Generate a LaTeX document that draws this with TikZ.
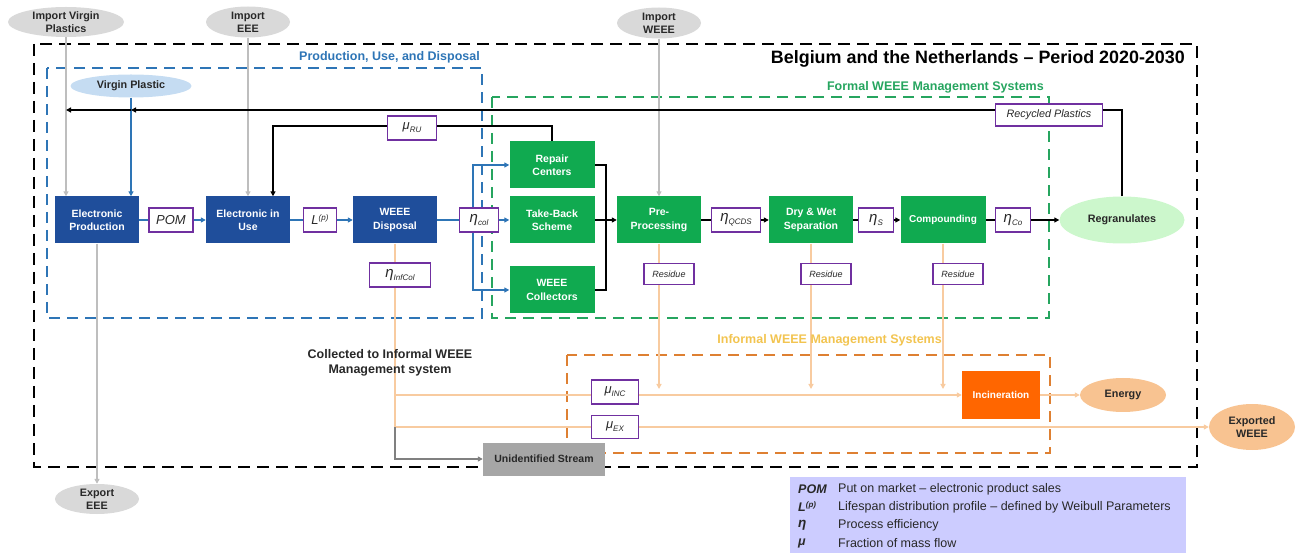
\documentclass[tikz,border=0pt]{standalone}
\usepackage{fontspec}
\setmainfont{Liberation Sans}
\usetikzlibrary{shapes.geometric,arrows.meta}
\definecolor{dkblue}{RGB}{31,78,155}
\definecolor{grbox}{RGB}{16,170,80}
\definecolor{blline}{RGB}{46,117,182}
\definecolor{purp}{RGB}{112,48,160}
\definecolor{lgray}{RGB}{217,217,217}
\definecolor{gline}{RGB}{190,190,190}
\definecolor{oline}{RGB}{248,203,160}
\definecolor{odash}{RGB}{222,128,50}
\definecolor{gold}{RGB}{242,196,80}
\definecolor{incor}{RGB}{255,102,0}
\definecolor{peachc}{RGB}{248,195,145}
\definecolor{regc}{RGB}{204,247,204}
\definecolor{vpc}{RGB}{197,220,242}
\definecolor{gdash}{RGB}{38,165,95}
\definecolor{lav}{RGB}{204,204,255}
\definecolor{unidc}{RGB}{166,166,166}
\definecolor{dgline}{RGB}{128,128,128}
\definecolor{txt}{RGB}{40,40,40}
\pgfdeclarelayer{bg}
\pgfsetlayers{bg,main}
\newcommand{\etas}[1]{{\fontsize{15}{15}\selectfont\itshape η}\raisebox{-3pt}{\fontsize{8}{8}\selectfont\itshape #1}}
\newcommand{\mus}[1]{{\fontsize{13}{13}\selectfont\itshape μ}\raisebox{-3pt}{\fontsize{8}{8}\selectfont\itshape #1}}
\begin{document}
\begin{tikzpicture}[x=1pt,y=-1pt,
  >={Triangle[length=5pt,width=5pt]},
  procb/.style={rectangle,fill=dkblue,text=white,font=\fontsize{10.5}{13.3}\selectfont\bfseries,minimum width=84pt,minimum height=47pt,align=center,inner sep=0pt},
  procg/.style={procb,fill=grbox},
  lbl/.style={rectangle,draw=purp,line width=1.8pt,fill=white,text=txt,font=\itshape,inner sep=0pt,minimum height=24pt},
  ellg/.style={ellipse,fill=lgray,text=txt,font=\fontsize{10.8}{13}\selectfont\bfseries,align=center,inner sep=0pt},
  vpl/.style={ellg,fill=vpc},
  regr/.style={ellg,fill=regc},
  peach/.style={ellg,fill=peachc},
  bl/.style={draw=blline,line width=1.8pt},
  bk/.style={draw=black,line width=1.9pt},
  gr/.style={draw=gline,line width=1.7pt},
  orl/.style={draw=oline,line width=1.9pt},
  gyl/.style={draw=dgline,line width=1.7pt},
  frame/.style={line width=2pt,dash pattern=on 11pt off 7pt},
  ttl/.style={font=\fontsize{12.5}{14}\selectfont\bfseries,anchor=east,inner sep=0pt}
]
\useasboundingbox (0,0) rectangle (1302,553);

% frames
\begin{pgfonlayer}{bg}
\draw[frame,black,line width=2.4pt,dash pattern=on 12pt off 7pt] (34,44) rectangle (1197,467);
\draw[frame,blline] (47,68) rectangle (482,318);
\draw[frame,gdash] (492,97) rectangle (1049,318);
\draw[frame,odash] (567,355) rectangle (1050,453);
\end{pgfonlayer}

\node[ttl,font=\fontsize{17.9}{20}\selectfont\bfseries] (title) at (1185,59) {Belgium and the Netherlands – Period 2020-2030};
\node[ttl,text=blline] (tpud) at (480,57) {Production, Use, and Disposal};
\node[ttl,text=gdash] (tfor) at (1044,87) {Formal WEEE Management Systems};
\node[ttl,text=gold] (tinf) at (942,340) {Informal WEEE Management Systems};

% ellipses
\node[ellg,minimum width=116pt,minimum height=30pt] (ivp) at (66,22) {Import Virgin\\Plastics};
\node[ellg,minimum width=84pt,minimum height=31pt] (ieee) at (248,22) {Import\\EEE};
\node[ellg,minimum width=84pt,minimum height=31pt] (iweee) at (659,23) {Import\\WEEE};
\node[vpl,minimum width=121pt,minimum height=23pt] (vp) at (131,86) {Virgin Plastic};
\node[ellg,minimum width=84pt,minimum height=30pt] (xeee) at (97,499) {Export\\EEE};
\node[regr,minimum width=125pt,minimum height=47pt] (rg) at (1122,220) {Regranulates};
\node[peach,minimum width=86pt,minimum height=34pt] (en) at (1123,395) {Energy};
\node[peach,minimum width=86pt,minimum height=46pt] (ex) at (1252,427) {Exported\\WEEE};

% process boxes
\node[procb] (ep) at (97,220) {Electronic\\Production};
\node[procb] (eu) at (248,220) {Electronic in\\Use};
\node[procb] (wd) at (395,220) {WEEE\\Disposal};
\node[procg,minimum width=85pt] (rc) at (552,165) {Repair\\Centers};
\node[procg,minimum width=85pt] (tb) at (552,220) {Take-Back\\Scheme};
\node[procg,minimum width=85pt] (wc) at (552,290) {WEEE\\Collectors};
\node[procg] (pp) at (659,220) {Pre-\\Processing};
\node[procg] (dw) at (811,220) {Dry \& Wet\\Separation};
\node[procg,minimum width=85pt,font=\fontsize{10}{12}\selectfont\bfseries] (co) at (943,220) {Compounding};
\node[procb,fill=incor,minimum width=78pt,font=\fontsize{10}{12}\selectfont\bfseries] (inc) at (1001,395) {Incineration};
\node[procb,fill=unidc,text=txt,minimum width=122pt,minimum height=33pt] (us) at (544,459) {Unidentified Stream};

% labels
\node[lbl,minimum width=44pt,font=\fontsize{13}{13}\selectfont\itshape] (pom) at (171,220) {POM};
\node[lbl,minimum width=33pt] (lp) at (320,220) {{\fontsize{13}{13}\selectfont L}\raisebox{4pt}{\fontsize{8}{8}\selectfont (p)}};
\node[lbl,minimum width=39pt] (ecol) at (479,220) {\etas{col}};
\node[lbl,minimum width=49pt] (eq) at (736,220) {\etas{QCDS}};
\node[lbl,minimum width=35pt] (es) at (876,220) {\etas{S}};
\node[lbl,minimum width=35pt] (eco) at (1013,220) {\etas{Co}};
\node[lbl,minimum width=61pt] (einf) at (400,275) {\etas{InfCol}};
\node[lbl,minimum width=49pt] (mru) at (412,128) {\mus{RU}};
\node[lbl,minimum width=47pt] (minc) at (615,392) {\mus{INC}};
\node[lbl,minimum width=47pt,minimum height=23pt] (mex) at (615,427) {\mus{EX}};
\node[lbl,minimum width=107pt,minimum height=22pt,font=\fontsize{10.8}{12}\selectfont\itshape] (rp) at (1049,115) {Recycled Plastics};
\node[lbl,minimum width=50pt,minimum height=21pt,font=\fontsize{9}{11}\selectfont\itshape] (r1) at (669,274) {Residue};
\node[lbl,minimum width=50pt,minimum height=21pt,font=\fontsize{9}{11}\selectfont\itshape] (r2) at (826,274) {Residue};
\node[lbl,minimum width=50pt,minimum height=21pt,font=\fontsize{9}{11}\selectfont\itshape] (r3) at (958,274) {Residue};

\node[font=\fontsize{12.5}{15.5}\selectfont\bfseries,align=center,text=txt,inner sep=0pt] (coll) at (390,363) {Collected to Informal WEEE\\Management system};

% coordinates
\coordinate (a1) at (131,110);
\coordinate (a2) at (66,110);
\coordinate (ru) at (273,126);
\coordinate (bj) at (473,220);
\coordinate (jx) at (606,220);
\coordinate (il) at (0,389);
\coordinate (b1) at (395,395);
\coordinate (b2) at (395,427);

\begin{pgfonlayer}{bg}
% gray imports/exports
\draw[gr,->] (ivp.south) -- (ivp.south |- ep.north);
\draw[gr,->] (ieee) -- (eu);
\draw[gr,->] (iweee) -- (pp);
\draw[gr,->] (ep) -- (xeee);
% blue
\draw[bl,->] (vp.south) -- (vp.south |- ep.north);
\draw[bl] (ep) -- (pom);
\draw[bl,->] (pom) -- (eu);
\draw[bl] (eu) -- (lp);
\draw[bl,->] (lp) -- (wd);
\draw[bl] (wd) -- (ecol);
\draw[bl,->] (ecol) -- (tb);
\draw[bl,->] (bj) |- (rc.west);
\draw[bl,->] (bj) |- (wc.west);
% black
\draw[bk,line width=2.3pt,->] (rg.north) |- (a1);
\draw[bk,line width=2.3pt,->] (a1) -- (a2);
\draw[bk,->] (rc.north) |- (ru) -- (ru |- eu.north);
\draw[bk] (rc.east) -| (jx);
\draw[bk] (wc.east) -| (jx);
\draw[bk,->] (tb) -- (pp);
\draw[bk] (pp) -- (eq);
\draw[bk,->] (eq) -- (dw);
\draw[bk] (dw) -- (es);
\draw[bk,->] (es) -- (co);
\draw[bk] (co) -- (eco);
\draw[bk,->] (eco) -- (rg);
% orange
\draw[orl,->] (pp.south) -- (pp.south |- il);
\draw[orl,->] (dw.south) -- (dw.south |- il);
\draw[orl,->] (co.south) -- (co.south |- il);
\draw[orl] (wd.south) -- (b2);
\draw[orl,->] (b1) -- (inc.west);
\draw[orl,->] (b2) -- (ex.west);
\draw[orl,->] (inc) -- (en);
\draw[gyl,->] (b2) |- (us.west);
\end{pgfonlayer}

% legend
\node[fill=lav,minimum width=396pt,minimum height=76pt,anchor=north west,inner sep=0pt] (leg) at (790,477) {};
\begin{scope}[every node/.style={anchor=west,inner sep=0pt,font=\fontsize{12.5}{14}\selectfont,text=txt}]
\node[font=\fontsize{12.5}{14}\selectfont\bfseries\itshape] (s1) at (798,489) {POM};
\node[font=\fontsize{12.5}{14}\selectfont\bfseries\itshape] (s2) at (798,507) {L\raisebox{4pt}{\fontsize{8}{8}\selectfont (p)}};
\node[font=\fontsize{13.5}{14}\selectfont\bfseries\itshape] (s3) at (798,525) {η};
\node[font=\fontsize{12.5}{14}\selectfont\bfseries\itshape] (s4) at (798,543) {μ};
\node (t1) at (838,489) {Put on market – electronic product sales};
\node (t2) at (838,507) {Lifespan distribution profile – defined by Weibull Parameters};
\node (t3) at (838,525) {Process efficiency};
\node (t4) at (838,543) {Fraction of mass flow};
\end{scope}
\end{tikzpicture}
\end{document}
